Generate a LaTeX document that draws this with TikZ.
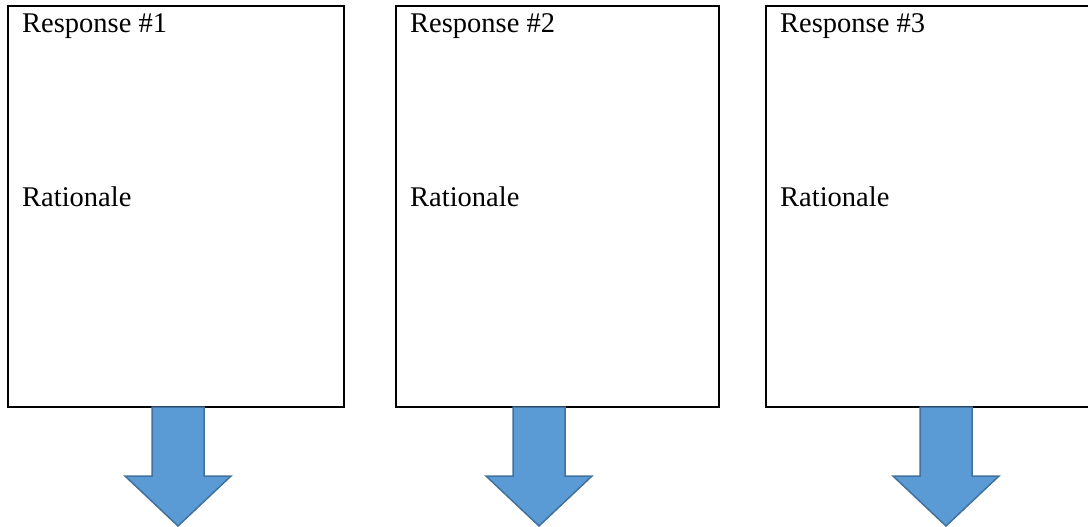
\documentclass[tikz,border=0pt]{standalone}
\usepackage{fontspec}
\setmainfont{Liberation Serif}
\tikzset{
  respbox/.style={draw=black, line width=2pt, fill=white, anchor=north west, inner sep=0pt},
  lbl/.style={anchor=base west, inner sep=0pt, font=\fontsize{28.5}{34}\selectfont},
  arrowfill/.style={fill=arrowblue, draw=arrowedge, line width=1.5pt, line join=miter},
  downarr/.pic={
    \draw[arrowfill] (-26,0) -- (26,0) -- (26,69) -- (53,69) -- (0,119)
      -- (-53,69) -- (-26,69) -- cycle;
  }
}
\definecolor{arrowblue}{HTML}{5B9BD5}
\definecolor{arrowedge}{HTML}{41719C}
\begin{document}
\begin{tikzpicture}[x=1pt, y=-1pt]
      \clip (0,0) rectangle (1088,527);
      \node[respbox, minimum width=336pt, minimum height=401pt] (box1) at (7,5) {};
      \node[respbox, minimum width=323pt, minimum height=401pt] (box2) at (395,5) {};
      \node[respbox, minimum width=340pt, minimum height=401pt] (box3) at (765,5) {};
      \node[lbl] (resp1) at ([shift={(15,28)}]box1.north west) {Response \#1};
      \node[lbl] (resp2) at ([shift={(15,28)}]box2.north west) {Response \#2};
      \node[lbl] (resp3) at ([shift={(15,28)}]box3.north west) {Response \#3};
      \node[lbl] (rat1) at ([shift={(15,201)}]box1.north west) {Rationale};
      \node[lbl] (rat2) at ([shift={(15,201)}]box2.north west) {Rationale};
      \node[lbl] (rat3) at ([shift={(15,201)}]box3.north west) {Rationale};
      \coordinate (arr1) at (178,407);
      \coordinate (arr2) at (539,407);
      \coordinate (arr3) at (946,407);
      \begin{scope}
        \pic at (arr1) {downarr};
        \pic at (arr2) {downarr};
        \pic at (arr3) {downarr};
      \end{scope}
    \end{tikzpicture}
\end{document}
